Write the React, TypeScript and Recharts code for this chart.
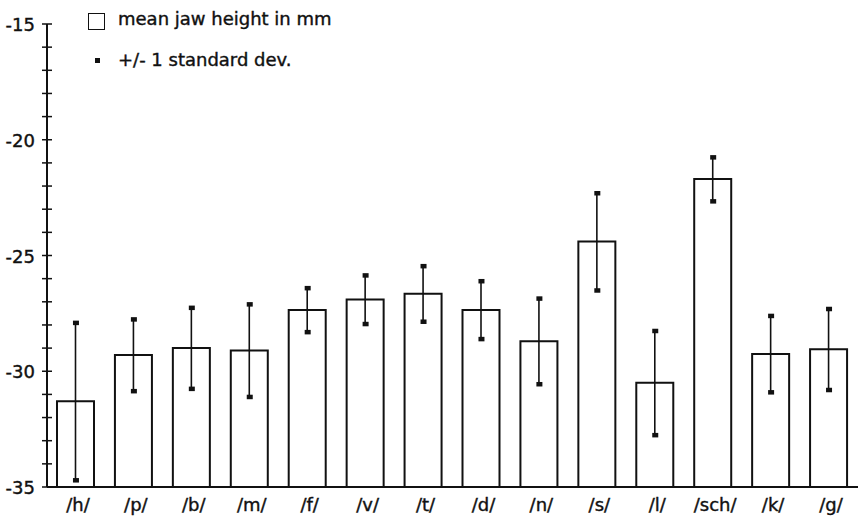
import { ComposedChart, Bar, Scatter, ErrorBar, XAxis, YAxis, Legend } from "recharts";

// Mean jaw height (mm) per consonant, with one standard deviation
const sounds = ["/h/", "/p/", "/b/", "/m/", "/f/", "/v/", "/t/", "/d/", "/n/", "/s/", "/l/", "/sch/", "/k/", "/g/"];
const meanHeight = [-31.3, -29.3, -29.0, -29.1, -27.35, -26.9, -26.65, -27.35, -28.7, -24.4, -30.5, -21.7, -29.25, -29.05];
const stdDev = [3.4, 1.55, 1.75, 2.0, 0.95, 1.05, 1.2, 1.25, 1.85, 2.1, 2.25, 0.95, 1.65, 1.75];
const yTicks = [-35, -34, -33, -32, -31, -30, -29, -28, -27, -26, -25, -24, -23, -22, -21, -20, -19, -18, -17, -16, -15];
const labelledTicks = [-35, -30, -25, -20, -15];

const FLOOR = -35;
const FONT = "'DejaVu Sans', sans-serif";
const INK = "#111";

const data = sounds.map((sound, i) => ({
  sound,
  span: [FLOOR, meanHeight[i]],
  sd: stdDev[i],
  hi: meanHeight[i] + stdDev[i],
  lo: meanHeight[i] - stdDev[i],
}));

function YTick({ x, y, payload }: any) {
  const v = payload.value as number;
  return (
    <g>
      <line x1={x - 5} x2={x + 5} y1={y} y2={y} stroke={INK} strokeWidth={1.5} />
      {labelledTicks.includes(v) && (
        <text x={x - 12} y={y + 7} textAnchor="end" fontSize={18} fontFamily={FONT} fill={INK} stroke={INK} strokeWidth={0.4}>
          {v}
        </text>
      )}
    </g>
  );
}

function XTick({ x, y, payload }: any) {
  return (
    <text x={x + 2} y={y + 24} textAnchor="middle" fontSize={18} fontFamily={FONT} fill={INK} stroke={INK} strokeWidth={0.4}>
      {payload.value}
    </text>
  );
}

function Cap({ cx, cy }: any) {
  if (cx == null || cy == null) return null;
  return <rect x={cx - 3} y={cy - 2} width={6} height={4.5} fill={INK} />;
}

// zero-size wrapper so the legend floats over the plot instead of taking space
function LegendBox() {
  const text = { position: "absolute" as const, left: 118, lineHeight: "26px", WebkitTextStroke: `0.4px ${INK}` };
  return (
    <div style={{ position: "relative", width: 0, height: 0, fontFamily: FONT, fontSize: 18, color: INK, whiteSpace: "nowrap" }}>
      <div style={{ position: "absolute", left: 88, top: 13, width: 15, height: 15, border: `1.5px solid ${INK}` }} />
      <div style={{ ...text, top: 6 }}>mean jaw height in mm</div>
      <div style={{ position: "absolute", left: 95, top: 58, width: 5, height: 5, background: INK }} />
      <div style={{ ...text, top: 47 }}>+/- 1 standard dev.</div>
    </div>
  );
}

export default function App() {
  return (
    <div style={{ position: "absolute", left: 0, top: 0, background: "#fff" }}>
      <ComposedChart
        width={858}
        height={519}
        data={data}
        margin={{ top: 24, right: 0, bottom: 0, left: 0 }}
        barSize={37}
      >
        <XAxis
          dataKey="sound"
          type="category"
          height={32}
          tickLine={false}
          tickSize={0}
          tickMargin={0}
          interval={0}
          axisLine={{ stroke: INK, strokeWidth: 2 }}
          tick={<XTick />}
        />
        <YAxis
          type="number"
          domain={[-35, -15]}
          ticks={yTicks}
          interval={0}
          allowDataOverflow
          width={47}
          tickLine={false}
          tickSize={0}
          tickMargin={0}
          axisLine={{ stroke: INK, strokeWidth: 2 }}
          tick={<YTick />}
        />
        <Legend
          verticalAlign="top"
          align="left"
          height={0}
          wrapperStyle={{ top: 0, left: 0, height: 0, width: 0 }}
          content={() => <LegendBox />}
        />
        <Bar dataKey="span" fill="#fff" stroke={INK} strokeWidth={2} isAnimationActive={false}>
          <ErrorBar dataKey="sd" width={0} stroke={INK} strokeWidth={1.6} direction="y" />
        </Bar>
        <Scatter dataKey="hi" shape={<Cap />} isAnimationActive={false} />
        <Scatter dataKey="lo" shape={<Cap />} isAnimationActive={false} />
      </ComposedChart>
    </div>
  );
}
